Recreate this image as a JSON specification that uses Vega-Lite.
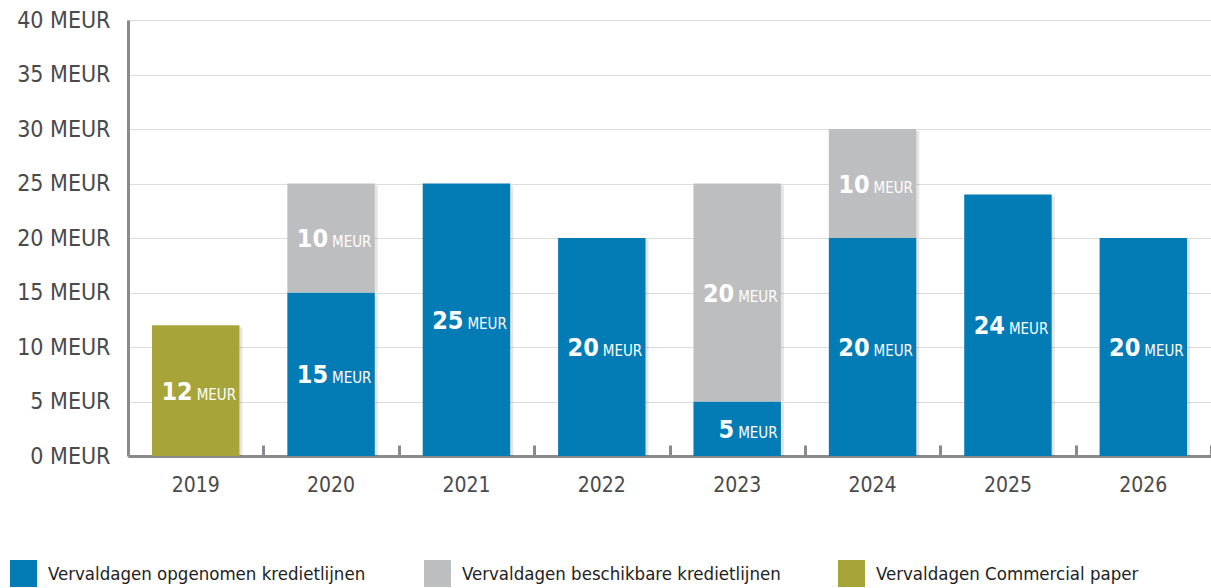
{
  "$schema": "https://vega.github.io/schema/vega-lite/v6.json",
  "width": 1083,
  "height": 436,
  "autosize": {"type": "none"},
  "padding": {"left": 128, "top": 20, "right": 0, "bottom": 132},
  "background": "white",
  "config": {"view": {"stroke": null}, "font": "'Liberation Sans Narrow', 'DejaVu Sans Condensed', 'Liberation Sans', sans-serif"},
  "data": {
    "values": [
      {"year": "2019", "series": "Vervaldagen Commercial paper", "value": 12},
      {"year": "2020", "series": "Vervaldagen opgenomen kredietlijnen", "value": 15},
      {"year": "2020", "series": "Vervaldagen beschikbare kredietlijnen", "value": 10},
      {"year": "2021", "series": "Vervaldagen opgenomen kredietlijnen", "value": 25},
      {"year": "2022", "series": "Vervaldagen opgenomen kredietlijnen", "value": 20},
      {"year": "2023", "series": "Vervaldagen opgenomen kredietlijnen", "value": 5},
      {"year": "2023", "series": "Vervaldagen beschikbare kredietlijnen", "value": 20},
      {"year": "2024", "series": "Vervaldagen opgenomen kredietlijnen", "value": 20},
      {"year": "2024", "series": "Vervaldagen beschikbare kredietlijnen", "value": 10},
      {"year": "2025", "series": "Vervaldagen opgenomen kredietlijnen", "value": 24},
      {"year": "2026", "series": "Vervaldagen opgenomen kredietlijnen", "value": 20}
    ]
  },
  "transform": [
    {"stack": "value", "groupby": ["year"], "sort": [{"field": "series", "order": "descending"}], "as": ["v0", "v1"]},
    {"calculate": "(datum.v0 + datum.v1) / 2", "as": "mid"}
  ],
  "resolve": {"axis": {"x": "independent"}},
  "layer": [
    {
      "mark": {"type": "bar", "color": "#000000", "opacity": 0.1, "xOffset": 3, "yOffset": 2},
      "encoding": {
        "x": {
          "field": "year",
          "type": "ordinal",
          "scale": {"paddingInner": 0.354, "paddingOuter": 0.177},
          "axis": {
            "title": null,
            "orient": "top",
            "offset": -436,
            "labels": false,
            "domain": false,
            "grid": false,
            "tickOffset": 67.69,
            "tickSize": 11,
            "tickWidth": 3,
            "tickColor": "#8a8a8e"
          }
        },
        "y": {
          "field": "v1",
          "type": "quantitative",
          "scale": {"domain": [0, 40]},
          "axis": {
            "title": null,
            "values": [0, 5, 10, 15, 20, 25, 30, 35, 40],
            "labelExpr": "datum.value + ' MEUR'",
            "ticks": false,
            "domainColor": "#8a8a8e",
            "domainWidth": 3,
            "gridColor": "#dcdcdc",
            "gridWidth": 1,
            "labelFontSize": 23,
            "labelPadding": 18,
            "labelColor": "#4a4a4a"
          }
        },
        "y2": {"field": "v0"}
      }
    },
    {
      "mark": {"type": "bar"},
      "encoding": {
        "x": {
          "field": "year",
          "type": "ordinal",
          "axis": {
            "title": null,
            "labelAngle": 0,
            "ticks": false,
            "domainColor": "#8a8a8e",
            "domainWidth": 3,
            "labelFontSize": 21,
            "labelPadding": 18,
            "labelColor": "#4a4a4a",
            "grid": false
          }
        },
        "y": {"field": "v1", "type": "quantitative"},
        "y2": {"field": "v0"},
        "color": {
          "field": "series",
          "type": "nominal",
          "scale": {
            "domain": ["Vervaldagen opgenomen kredietlijnen", "Vervaldagen beschikbare kredietlijnen", "Vervaldagen Commercial paper"],
            "range": ["#037cb6", "#bdbec0", "#a7a43a"]
          },
          "legend": {
            "orient": "none",
            "legendX": -118,
            "legendY": 540,
            "direction": "horizontal",
            "columns": 3,
            "title": null,
            "symbolType": "square",
            "symbolSize": 729,
            "symbolStrokeWidth": 0,
            "symbolOpacity": 1,
            "labelFontSize": 18.5,
            "labelOffset": 11,
            "columnPadding": 57,
            "gridAlign": "all",
            "labelLimit": 400,
            "labelColor": "#222222"
          }
        }
      }
    },
    {
      "mark": {"type": "text", "align": "right", "baseline": "alphabetic", "dx": -3, "dy": 9, "fontSize": 25, "fontWeight": "bold", "color": "white"},
      "encoding": {
        "x": {"field": "year", "type": "ordinal", "axis": null},
        "y": {"field": "mid", "type": "quantitative"},
        "text": {"field": "value", "type": "quantitative"}
      }
    },
    {
      "mark": {"type": "text", "align": "left", "baseline": "alphabetic", "dx": 1, "dy": 9, "fontSize": 15, "color": "white"},
      "encoding": {
        "x": {"field": "year", "type": "ordinal", "axis": null},
        "y": {"field": "mid", "type": "quantitative"},
        "text": {"value": "MEUR"}
      }
    }
  ]
}
